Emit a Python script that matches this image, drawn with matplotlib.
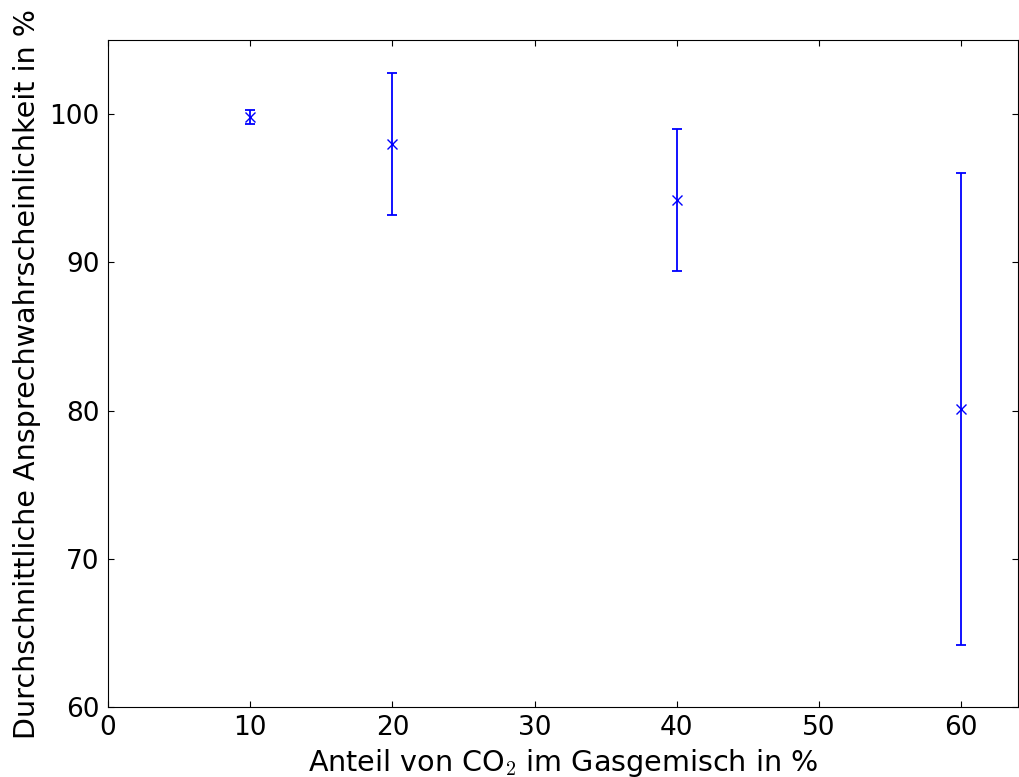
import matplotlib
matplotlib.use('Agg')
import matplotlib.pyplot as plt

# CO2 share in %, mean detection probability in %, std deviation
co2_share = [10, 20, 40, 60]
mean_prob = [99.8, 98.0, 94.2, 80.1]
std_prob = [0.47, 4.8, 4.8, 15.9]

plt.rcParams['font.size'] = 19
plt.rcParams['mathtext.fontset'] = 'cm'
plt.rcParams['xtick.direction'] = 'in'
plt.rcParams['ytick.direction'] = 'in'
plt.rcParams['xtick.top'] = True
plt.rcParams['ytick.right'] = True
plt.rcParams['xtick.major.size'] = 4
plt.rcParams['ytick.major.size'] = 4
plt.rcParams['xtick.major.pad'] = 6
plt.rcParams['ytick.major.pad'] = 6

fig = plt.figure(figsize=(10.2, 7.77), dpi=100)
ax = fig.add_axes([0.106, 0.090, 0.892, 0.8585])
ax.errorbar(co2_share, mean_prob, yerr=std_prob, fmt='x', color='b',
            markersize=7, elinewidth=1.3, capsize=3.5, capthick=1.3)
ax.set_xlim(0, 64)
ax.set_ylim(60, 105)
ax.set_xticks([0, 10, 20, 30, 40, 50, 60])
ax.set_yticks([60, 70, 80, 90, 100])
ax.set_xlabel(r'Anteil von CO$_2$ im Gasgemisch in %', fontsize=20.6,
              labelpad=4)
ax.set_ylabel('Durchschnittliche Ansprechwahrscheinlichkeit in %',
              fontsize=20.6, labelpad=6)
fig.savefig('out.png', dpi=100)
